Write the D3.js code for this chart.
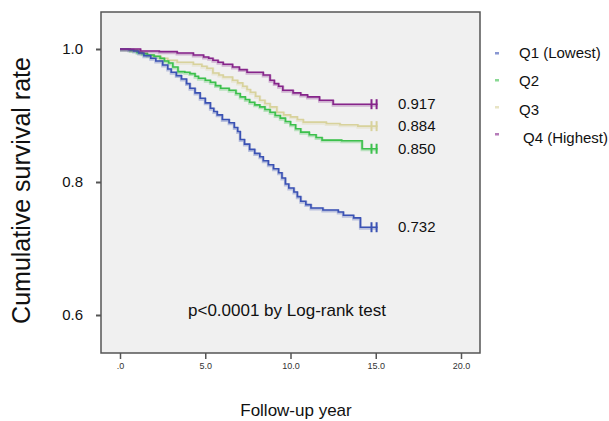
<html lang="en">
<head>
  <title>Cumulative survival</title>
  <meta charset="utf-8">
  <script src="https://cdnjs.cloudflare.com/ajax/libs/d3/7.8.5/d3.min.js"></script>
  <style>
    body { margin: 0; background: white; }
    text { font-family: 'Liberation Sans', Arial, sans-serif; fill: #111; }
    .tick_x { font-size: 9px; fill: #333; }
  </style>
</head>
<body>
  <svg id = 'canvas' style = 'width: 609px; height: 421px;'></svg>
</body>

<script>

// series: [year, cumulative survival]
var q1_steps = [[0,1.000],[0.5,0.999],[0.8,0.997],[1.1,0.994],[1.4,0.990],[1.8,0.986],[2.1,0.982],[2.5,0.976],[2.8,0.970],[3.0,0.965],[3.3,0.960],[3.6,0.955],[3.9,0.948],[4.1,0.941],[4.4,0.934],[4.7,0.926],[5.0,0.919],[5.3,0.911],[5.5,0.906],[5.7,0.901],[6.0,0.894],[6.4,0.889],[6.7,0.882],[6.9,0.876],[7.05,0.864],[7.3,0.857],[7.6,0.849],[7.9,0.843],[8.2,0.838],[8.4,0.832],[8.7,0.826],[9.0,0.820],[9.3,0.814],[9.5,0.806],[9.7,0.797],[9.9,0.791],[10.2,0.785],[10.4,0.778],[10.6,0.771],[10.9,0.766],[11.2,0.761],[11.9,0.758],[12.8,0.755],[13.1,0.750],[13.7,0.746],[14.1,0.732]];
var q2_steps = [[0,1.000],[0.6,0.998],[1.0,0.995],[1.3,0.993],[1.6,0.991],[2.0,0.989],[2.35,0.986],[2.6,0.982],[2.85,0.979],[3.1,0.973],[3.4,0.966],[3.8,0.965],[4.1,0.963],[4.4,0.959],[4.6,0.956],[5.0,0.953],[5.3,0.950],[5.6,0.945],[5.9,0.941],[6.4,0.938],[6.8,0.933],[7.05,0.928],[7.35,0.924],[7.6,0.920],[7.9,0.916],[8.2,0.913],[8.5,0.909],[8.8,0.905],[9.1,0.900],[9.4,0.896],[9.7,0.891],[10.0,0.886],[10.3,0.880],[10.6,0.875],[11.1,0.871],[11.5,0.867],[11.85,0.863],[13.0,0.862],[14.2,0.850]];
var q3_steps = [[0,1.000],[0.6,0.998],[1.2,0.994],[1.6,0.991],[1.95,0.989],[2.4,0.986],[2.8,0.983],[3.35,0.980],[4.3,0.977],[4.8,0.974],[5.1,0.971],[5.45,0.964],[5.8,0.961],[6.05,0.958],[6.6,0.953],[6.9,0.949],[7.2,0.944],[7.45,0.939],[7.65,0.935],[7.95,0.929],[8.2,0.923],[8.5,0.918],[8.8,0.913],[9.2,0.905],[9.6,0.901],[10.0,0.898],[10.4,0.894],[10.75,0.890],[12.1,0.888],[12.9,0.886],[13.95,0.884]];
var q4_steps = [[0,1.000],[1.2,0.997],[2.3,0.996],[3.35,0.994],[4.3,0.991],[4.9,0.988],[5.2,0.986],[5.45,0.983],[5.75,0.980],[6.05,0.977],[6.6,0.973],[7.0,0.969],[7.45,0.965],[8.4,0.961],[8.8,0.953],[9.05,0.948],[9.3,0.944],[9.55,0.938],[10.15,0.934],[10.6,0.931],[11.0,0.928],[11.7,0.923],[12.5,0.917]];

var series_names = ['Q1 (Lowest)', 'Q2', 'Q3', 'Q4 (Highest)'];
var series_colors = ['#3b52b4', '#3cc04c', '#d8d29c', '#86248a'];
var end_labels = ['0.732', '0.850', '0.884', '0.917'];
var end_time = 15.1;
var censor_times = [14.75, 15.05];

var x_ticks = [0, 5, 10, 15, 20], x_tick_labels = ['.0', '5.0', '10.0', '15.0', '20.0'];
var y_ticks = [0.6, 0.8, 1.0], y_tick_labels = ['0.6', '0.8', '1.0'];

var all_steps = [q1_steps, q2_steps, q3_steps, q4_steps];

var box = { left: 101, right: 480, top: 12, bottom: 353 };
var xScale = d3.scaleLinear().domain([0, 20]).range([120, 461]);
var yScale = d3.scaleLinear().domain([0.6, 1.0]).range([315, 49]);

var svg = d3.select('#canvas');

/*******************************************************************************/
// frame and axes

svg.append('rect')
  .attr('x', box.left).attr('y', box.top)
  .attr('width', box.right - box.left).attr('height', box.bottom - box.top)
  .style('fill', '#f0f0f0').style('stroke', '#555').style('stroke-width', 1.5);

var xAxis = svg.append('g').attr('transform', 'translate(0,' + box.bottom + ')')
  .call(d3.axisBottom(xScale).tickValues(x_ticks).tickSize(6).tickPadding(4)
    .tickFormat(function(d, i){ return x_tick_labels[i]; }));
xAxis.select('.domain').remove();
xAxis.selectAll('line').style('stroke', '#555').style('stroke-width', 1.5);
xAxis.selectAll('text').attr('class', 'tick_x').attr('font-family', null).attr('font-size', null);

var yAxis = svg.append('g').attr('transform', 'translate(' + box.left + ',0)')
  .call(d3.axisLeft(yScale).tickValues(y_ticks).tickSize(5).tickPadding(13)
    .tickFormat(function(d, i){ return y_tick_labels[i]; }));
yAxis.select('.domain').remove();
yAxis.selectAll('line').style('stroke', '#555').style('stroke-width', 2);
yAxis.selectAll('text').attr('font-family', null).style('font-size', '15px');

svg.append('text').attr('transform', 'translate(30,' + ((box.top + box.bottom)/2 + 8) + ') rotate(-90)')
  .style('text-anchor', 'middle').style('font-size', '25px').text('Cumulative survival rate');

svg.append('text').attr('x', 296).attr('y', 416)
  .style('text-anchor', 'middle').style('font-size', '17px').text('Follow-up year');

svg.append('text').attr('x', 287).attr('y', 316)
  .style('text-anchor', 'middle').style('font-size', '17px').text('p<0.0001 by Log-rank test');

/*******************************************************************************/
// survival curves

var line = d3.line()
  .x(function(d){ return xScale(d[0]); })
  .y(function(d){ return yScale(d[1]); })
  .curve(d3.curveStepAfter);

// draw Q3, Q2, Q1 then Q4 on top
[2, 1, 0, 3].forEach(function(i){
  var pts = all_steps[i].concat([[end_time, all_steps[i][all_steps[i].length - 1][1]]]);
  var g = svg.append('g').attr('class', 'curve');
  g.append('path').attr('d', line(pts)).attr('transform', 'translate(0,1)')
    .style('fill', 'none').style('stroke', series_colors[i]).style('stroke-width', 3).style('opacity', 0.3);
  g.append('path').attr('d', line(pts))
    .style('fill', 'none').style('stroke', series_colors[i]).style('stroke-width', 1.6);

  var last = pts[pts.length - 1][1];
  g.selectAll('.censor').data(censor_times).enter()
    .append('line').attr('class', 'censor')
    .attr('x1', function(d){ return xScale(d); }).attr('x2', function(d){ return xScale(d); })
    .attr('y1', yScale(last) - 5).attr('y2', yScale(last) + 5)
    .style('stroke', series_colors[i]).style('stroke-width', 2);

  g.append('text').attr('x', 398).attr('y', yScale(last) + 5)
    .style('font-size', '15px').text(end_labels[i]);
});

/*******************************************************************************/
// legend

var legend = svg.selectAll('.legend').data(series_names).enter()
  .append('g').attr('class', 'legend')
  .attr('transform', function(d, i){ return 'translate(495,' + (53 + i*27) + ')'; });

legend.append('rect').attr('x', 0).attr('y', -1).attr('width', 4).attr('height', 2.5)
  .style('fill', function(d, i){ return series_colors[i]; }).style('opacity', 0.6);

legend.append('text').attr('x', function(d, i){ return i == 3 ? 28 : 24; }).attr('y', function(d, i){ return 5 + i*1.3; })
  .style('font-size', '15px').text(function(d){ return d; });

</script>
</html>
